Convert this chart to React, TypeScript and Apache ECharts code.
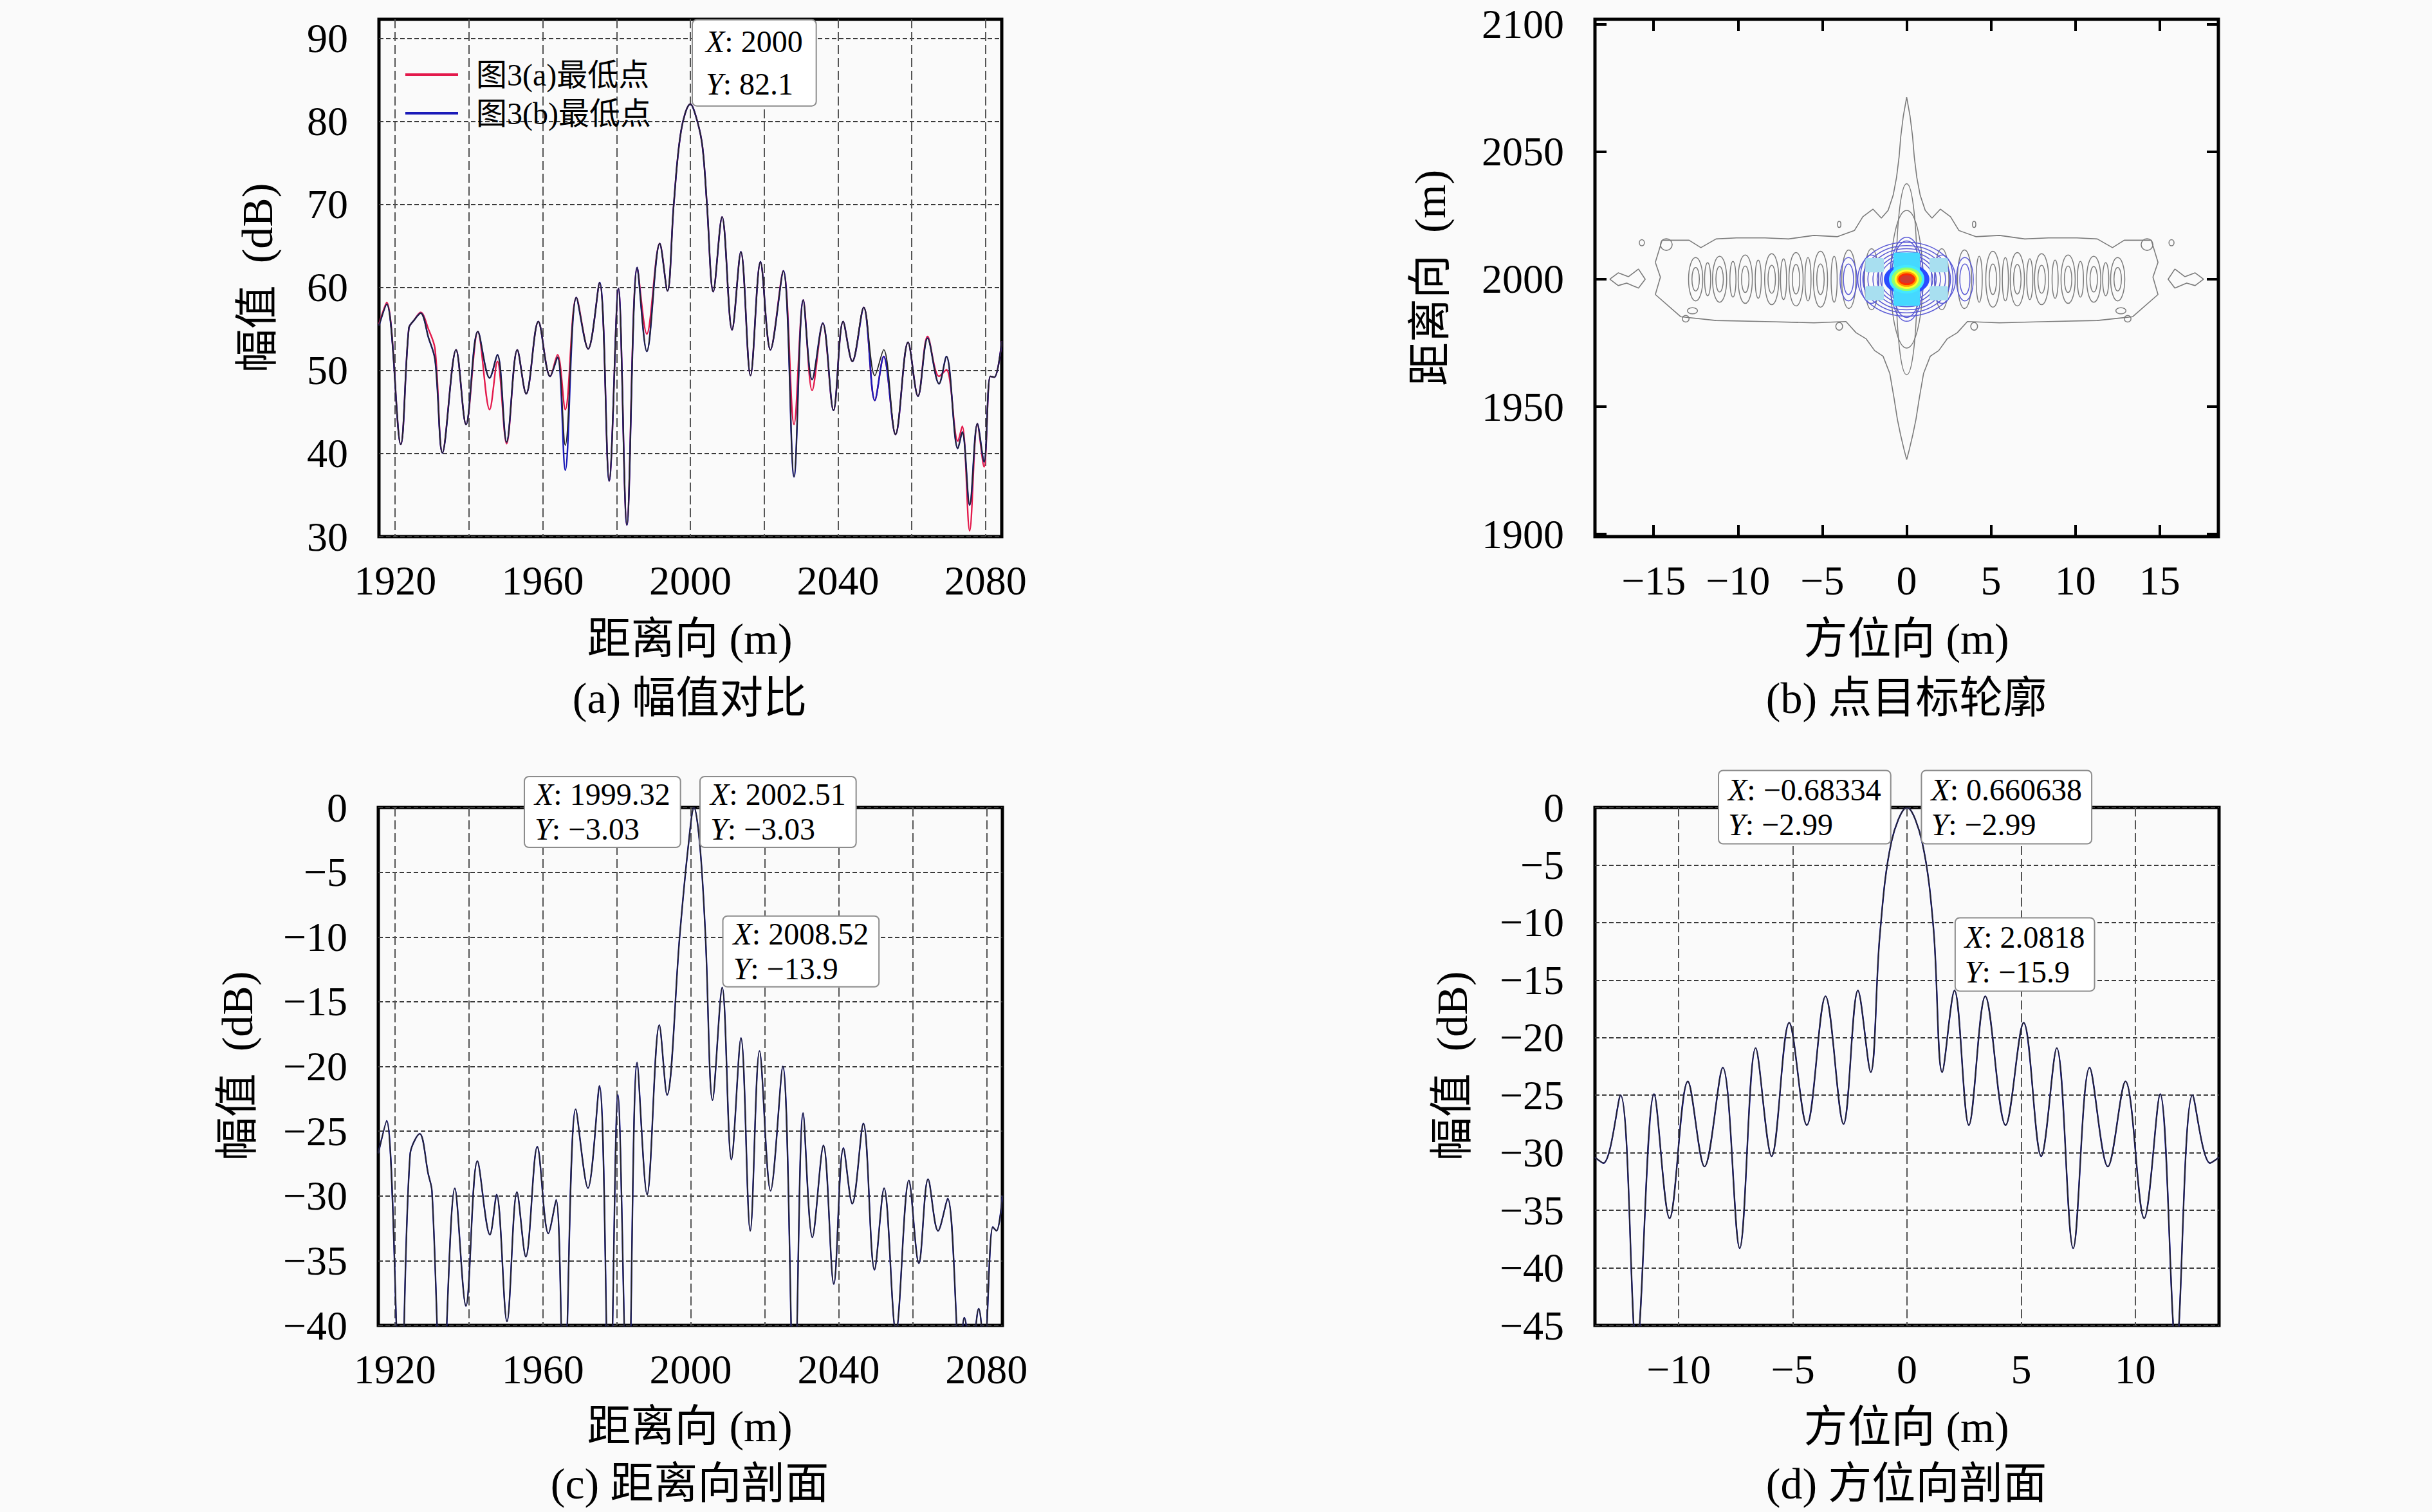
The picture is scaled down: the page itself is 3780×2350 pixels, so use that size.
import React, { useEffect, useRef } from 'react';
import * as echarts from 'echarts';

// ---------- (a) 幅值对比 ----------
const rangeX = [1915.6, 1917.7, 1921.5, 1923.7, 1925.0, 1926.9, 1929.0, 1930.8, 1932.8, 1936.5,
  1939.2, 1942.4, 1945.6, 1947.7, 1950.2, 1953.1, 1955.5, 1958.8, 1962.0, 1964.0,
  1966.1, 1969.1, 1972.3, 1975.4, 1978.0, 1980.5, 1982.8, 1985.6, 1988.2, 1991.7,
  1993.8, 1995.5, 1997.5, 2000, 2001.9, 2003.3, 2004.5, 2006.2, 2008.6, 2011.3,
  2013.7, 2016.3, 2019.0, 2021.7, 2025.2, 2028.1, 2030.6, 2033.0, 2035.9, 2038.8,
  2041.4, 2043.9, 2047.0, 2050.0, 2052.4, 2055.6, 2059.0, 2061.7, 2064.3, 2067.4,
  2069.4, 2072.5, 2073.7, 2075.7, 2077.8, 2079.6, 2081.3, 2082.4, 2084.4];
const ampBlue = [55.4, 58.0, 41.1, 55.1, 56.0, 56.9, 54.0, 51.3, 40.1, 52.5,
  43.5, 54.7, 49.1, 51.9, 41.4, 52.5, 47.2, 55.9, 49.3, 51.6,
  38.0, 58.8, 52.6, 60.6, 36.7, 59.9, 31.4, 62.4, 52.3, 65.3,
  59.6, 70.0, 78.9, 82.1, 80.0, 76.9, 70.0, 59.5, 68.5, 54.9,
  64.3, 49.4, 63.1, 52.5, 62.0, 37.2, 58.5, 48.9, 55.7, 45.2,
  55.9, 51.1, 57.6, 46.4, 51.7, 42.3, 53.4, 46.9, 53.9, 48.4,
  51.7, 40.6, 42.6, 33.8, 43.6, 39.0, 49.3, 49.2, 53.5];
const ampRed = [55.6, 58.2, 41.1, 55.1, 56.0, 57.0, 55.0, 52.6, 40.1, 52.5,
  43.5, 54.7, 45.3, 51.1, 41.2, 52.5, 47.2, 55.9, 49.3, 51.9,
  45.3, 58.8, 52.6, 60.6, 36.7, 59.9, 31.4, 62.4, 54.4, 65.3,
  59.6, 70.0, 78.9, 82.1, 80.0, 76.9, 70.0, 59.5, 68.5, 54.9,
  64.3, 49.4, 63.1, 52.5, 62.0, 43.5, 58.5, 47.6, 55.7, 45.2,
  55.9, 51.1, 57.6, 46.4, 51.7, 42.3, 53.4, 46.9, 54.1, 49.3,
  50.1, 41.5, 43.3, 30.7, 43.6, 38.4, 49.3, 49.2, 53.5];
const ampBlack = [55.4, 58.0, 41.1, 55.1, 56.0, 56.9, 54.0, 51.3, 40.1, 52.5,
  43.5, 54.7, 49.1, 51.9, 41.4, 52.5, 47.2, 55.9, 49.3, 51.6,
  41.0, 58.8, 52.6, 60.6, 36.7, 59.9, 31.4, 62.4, 52.3, 65.3,
  59.6, 70.0, 78.9, 82.1, 80.0, 76.9, 70.0, 59.5, 68.5, 54.9,
  64.3, 49.4, 63.1, 52.5, 62.0, 37.2, 58.5, 48.9, 55.7, 45.2,
  55.9, 51.1, 57.6, 49.4, 52.5, 42.3, 53.4, 46.9, 53.9, 48.4,
  51.7, 40.6, 42.6, 33.8, 43.6, 39.0, 49.3, 49.2, 53.5];
const legendNames = ['图3(a)最低点', '图3(b)最低点'];
const rangeGridTicks = [1920, 1940, 1960, 1980, 2000, 2020, 2040, 2060, 2080];
const rangeLabelTicks = [1920, 1960, 2000, 2040, 2080];
const ampTicksA = [30, 40, 50, 60, 70, 80, 90];
const tipsA = [[2000, 82.1]];

// ---------- (c) 距离向剖面 ----------
const profCX = [1915.5, 1917.75, 1921.5, 1924.1, 1926.7, 1929.0, 1930.0, 1932.7, 1936.2, 1939.2,
  1942.3, 1945.7, 1947.5, 1950.3, 1953.0, 1955.4, 1958.5, 1961.5, 1963.6, 1965.7,
  1968.9, 1972.2, 1975.3, 1978.0, 1980.3, 1983.0, 1985.5, 1988.2, 1991.5, 1993.6,
  1997.0, 1999.32, 2000.9, 2002.51, 2004.0, 2005.9, 2008.52, 2011.0, 2013.6, 2016.1,
  2018.6, 2021.6, 2024.9, 2028.0, 2030.4, 2032.9, 2035.9, 2038.7, 2041.3, 2043.7,
  2046.7, 2049.7, 2052.3, 2055.5, 2059.0, 2061.7, 2064.2, 2066.9, 2069.5, 2072.9,
  2074.0, 2076.0, 2077.9, 2079.4, 2081.7, 2082.7, 2084.3];
const profCY = [-26.7, -24.2, -46, -26.8, -25.2, -28.3, -29.6, -46, -29.4, -38.5,
  -27.3, -33.0, -29.9, -39.7, -29.7, -34.7, -26.2, -32.9, -30.3, -46,
  -23.3, -29.4, -21.5, -48, -22.2, -48, -19.7, -29.9, -16.8, -22.2,
  -10.0, -3.03, 0, -3.03, -10.0, -22.6, -13.9, -27.2, -17.8, -32.7,
  -18.8, -29.6, -20.0, -46, -23.6, -33.2, -26.1, -36.8, -26.3, -30.6,
  -24.4, -35.7, -29.4, -40.5, -28.8, -35.2, -28.7, -32.7, -30.2, -43,
  -39.4, -42, -38.7, -42, -32.4, -32.7, -30.0];
const ampTicksC = [-40, -35, -30, -25, -20, -15, -10, -5, 0];
const tipsC = [[1999.32, -3.03], [2002.51, -3.03], [2008.52, -13.9]];

// ---------- (d) 方位向剖面 ----------
const azX = [-13.67, -13.3, -12.55, -11.85, -11.08, -10.4, -9.6, -8.87, -8.07, -7.33,
  -6.63, -5.93, -5.16, -4.39, -3.57, -2.78, -2.15, -1.59, -1.19, -0.68334,
  0, 0.660638, 1.16, 1.54, 2.0818, 2.71, 3.43, 4.32, 5.11, 5.88,
  6.56, 7.28, 8.0, 8.8, 9.57, 10.39, 11.09, 11.79, 12.51, 13.28, 13.67];
const azY = [-30.4, -30.9, -25.0, -47, -24.9, -35.7, -23.8, -31.2, -22.6, -38.3,
  -20.9, -30.3, -18.7, -27.6, -16.4, -27.5, -15.9, -23.0, -11.1, -2.99,
  0, -2.99, -10.5, -23.0, -15.9, -27.6, -16.4, -27.6, -18.7, -30.3,
  -20.9, -38.3, -22.6, -31.2, -23.8, -35.7, -24.9, -47, -25.0, -30.9, -30.4];
const azTicks = [-10, -5, 0, 5, 10];
const ampTicksD = [-45, -40, -35, -30, -25, -20, -15, -10, -5, 0];
const tipsD = [[-0.68334, -2.99], [0.660638, -2.99], [2.0818, -15.9]];

// ---------- (b) 点目标轮廓 ----------
const contourTicksX = [-15, -10, -5, 0, 5, 10, 15];
const contourTicksY = [1900, 1950, 2000, 2050, 2100];
const contourOuter = [
  [-14.9, 2006.6], [-14.5, 2015.3], [-12.9, 2015.3], [-12.2, 2012.4], [-11.3, 2015.8], [-10.1, 2016.2],
  [-8.4, 2016.2], [-7.0, 2015.8], [-5.5, 2017.2], [-4.1, 2016.7], [-3.1, 2019.1], [-2.6, 2024.5],
  [-2.0, 2027.5], [-1.5, 2024.0], [-1.1, 2027.0], [-0.8, 2033.0], [-0.6, 2040.0], [-0.45, 2048.0],
  [-0.35, 2056.0], [-0.2, 2064.0], [0, 2071.4], [0.2, 2064.0], [0.35, 2056.0], [0.45, 2048.0],
  [0.6, 2040.0], [0.8, 2033.0], [1.1, 2027.0], [1.5, 2024.0], [2.0, 2027.5], [2.6, 2024.5],
  [3.1, 2019.1], [4.1, 2016.7], [5.5, 2017.2], [7.0, 2015.8], [8.4, 2016.2], [10.1, 2016.2],
  [11.3, 2015.8], [12.2, 2012.4], [12.9, 2015.3], [14.5, 2015.3], [14.9, 2006.6], [14.6, 2000.8],
  [14.9, 1994.0], [13.4, 1985.3], [11.3, 1983.8], [8.4, 1983.4], [5.5, 1982.9], [3.6, 1983.4],
  [3.0, 1979.0], [2.4, 1976.6], [1.9, 1972.0], [1.4, 1969.8], [1.0, 1963.0], [0.75, 1953.4],
  [0.55, 1945.0], [0.36, 1938.9], [0.15, 1933.0], [0, 1929.2], [-0.15, 1933.0], [-0.36, 1938.9],
  [-0.55, 1945.0], [-0.75, 1953.4], [-1.0, 1963.0], [-1.4, 1969.8], [-1.9, 1972.0], [-2.4, 1976.6],
  [-3.0, 1979.0], [-3.6, 1983.4], [-5.5, 1982.9], [-8.4, 1983.4], [-11.3, 1983.8], [-13.4, 1985.3],
  [-14.9, 1994.0], [-14.6, 2000.8], [-14.9, 2006.6]];
const contourEndLeft = [[-17.6, 2000], [-17.1, 2002.5], [-16.5, 2001], [-15.9, 2004], [-15.5, 2000],
  [-15.9, 1996.5], [-16.6, 1998.5], [-17.1, 1997.5], [-17.6, 2000]];
const contourEndRight = [[17.6, 2000], [17.1, 2002.5], [16.5, 2001], [15.9, 2004], [15.5, 2000],
  [15.9, 1996.5], [16.6, 1998.5], [17.1, 1997.5], [17.6, 2000]];
// [cx, cy, rx, ry]
const grayLoops = [
  [0, 2000, 0.62, 37.5], [0, 2000, 0.95, 27],
  [-2.08, 2000, 0.42, 12], [2.08, 2000, 0.42, 12], [-3.43, 2000, 0.42, 11.5], [3.43, 2000, 0.42, 11.5],
  [-5.11, 2000, 0.42, 11], [5.11, 2000, 0.42, 11], [-6.56, 2000, 0.42, 10.5], [6.56, 2000, 0.42, 10.5],
  [-8.0, 2000, 0.42, 10], [8.0, 2000, 0.42, 10], [-9.57, 2000, 0.42, 9.5], [9.57, 2000, 0.42, 9.5],
  [-11.09, 2000, 0.42, 9], [11.09, 2000, 0.42, 9], [-12.51, 2000, 0.42, 8.5], [12.51, 2000, 0.42, 8.5],
  [-5.11, 2000, 0.22, 6], [5.11, 2000, 0.22, 6], [-6.56, 2000, 0.22, 5.8], [6.56, 2000, 0.22, 5.8],
  [-8.0, 2000, 0.22, 5.5], [8.0, 2000, 0.22, 5.5], [-9.57, 2000, 0.22, 5.2], [9.57, 2000, 0.22, 5.2],
  [-11.09, 2000, 0.22, 5], [11.09, 2000, 0.22, 5], [-12.51, 2000, 0.22, 4.6], [12.51, 2000, 0.22, 4.6],
  [-4.3, 2000, 0.18, 9], [4.3, 2000, 0.18, 9], [-5.85, 2000, 0.18, 8.5], [5.85, 2000, 0.18, 8.5],
  [-7.3, 2000, 0.18, 8], [7.3, 2000, 0.18, 8], [-8.8, 2000, 0.18, 7.5], [8.8, 2000, 0.18, 7.5],
  [-10.3, 2000, 0.18, 7], [10.3, 2000, 0.18, 7], [-11.8, 2000, 0.18, 6.5], [11.8, 2000, 0.18, 6.5],
  [-14.25, 2013.6, 0.35, 2.3], [14.25, 2013.6, 0.35, 2.3], [-12.7, 1987.6, 0.3, 1.2], [12.7, 1987.6, 0.3, 1.2],
  [-15.7, 2014.3, 0.15, 1.2], [15.7, 2014.3, 0.15, 1.2], [-13.1, 1984.5, 0.2, 1.3], [13.1, 1984.5, 0.2, 1.3],
  [-4.0, 1981.5, 0.2, 1.5], [4.0, 1981.5, 0.2, 1.5], [-4.0, 2021.5, 0.1, 1.2], [4.0, 2021.5, 0.1, 1.2]];
const blueLoops = [
  [0, 2000, 2.9, 14.5], [0, 2000, 2.6, 13.2], [0, 2000, 2.3, 12], [0, 2000, 2.0, 10.8],
  [0, 2000, 1.75, 9.6], [0, 2000, 1.55, 8.4], [0, 2000, 1.0, 16.5], [0, 2000, 0.9, 15],
  [-2.1, 2000, 0.65, 9.5], [2.1, 2000, 0.65, 9.5], [-2.1, 2000, 0.45, 7.5], [2.1, 2000, 0.45, 7.5],
  [-3.45, 2000, 0.5, 8.5], [3.45, 2000, 0.5, 8.5], [-3.45, 2000, 0.3, 6], [3.45, 2000, 0.3, 6]];
// [cx, cy, rx, ry, kind(0 ellipse, 1 rect)]
const coreFills = [
  [0, 2000, 1.35, 6.0, 0], [0, 2000, 0.78, 10.5, 1],
  [-1.9, 2005.5, 0.55, 2.8, 1], [1.9, 2005.5, 0.55, 2.8, 1], [-1.9, 1994.5, 0.55, 2.8, 1], [1.9, 1994.5, 0.55, 2.8, 1],
  [0, 2000, 1.05, 5.6, 0], [0, 2000, 0.9, 4.6, 0], [0, 2000, 0.72, 3.8, 0], [0, 2000, 0.6, 3.0, 0],
  [0, 2000, 0.5, 2.3, 0], [0, 2000, 0.4, 1.6, 0]];
const coreColors = ['#2a4cff', '#45d8ff', '#a8dff0', '#a8dff0', '#a8dff0', '#a8dff0',
  '#44e8ff', '#8cff72', '#ffff2a', '#ff9c00', '#ff2a00', '#cf3a30'];

// ---------- layout / style ----------
const SERIF = "'Liberation Serif', 'Noto Sans CJK SC', serif";
const BG = '#fafafa';
const grids = [
  { left: 589, top: 30, width: 968, height: 804 },
  { left: 2479, top: 30, width: 969, height: 804 },
  { left: 588, top: 1255, width: 970, height: 805 },
  { left: 2479, top: 1255, width: 970, height: 805 },
];
const titleItems = [
  { t: '距离向 (m)', x: 1072, y: 993, r: 0 },
  { t: '方位向 (m)', x: 2963, y: 993, r: 0 },
  { t: '距离向 (m)', x: 1072, y: 2217, r: 0 },
  { t: '方位向 (m)', x: 2963, y: 2218, r: 0 },
  { t: '幅值\u2002(dB)', x: 400, y: 432, r: 1 },
  { t: '距离向\u2002(m)', x: 2223, y: 432, r: 1 },
  { t: '幅值\u2002(dB)', x: 369, y: 1657, r: 1 },
  { t: '幅值\u2002(dB)', x: 2257, y: 1657, r: 1 },
  { t: '(a) 幅值对比', x: 1072, y: 1085, r: 0 },
  { t: '(b) 点目标轮廓', x: 2963, y: 1085, r: 0 },
  { t: '(c) 距离向剖面', x: 1072, y: 2306, r: 0 },
  { t: '(d) 方位向剖面', x: 2963, y: 2306, r: 0 },
];
const tipLayoutA = [[4, 2, 'left']];
const tipLayoutC = [[-13, 0, 'right'], [1, 0, 'left'], [2, -2, 'left']];
const tipLayoutD = [[-2, 2, 'right'], [0, 2, 'left'], [2, 0, 'left']];

const minus = (v: any) => String(v).replace('-', '\u2212');
const pairs = (xs: number[], ys: number[]) => xs.map((x, i) => [x, ys[i]]);

const labelStyle = { fontSize: 64, fontFamily: SERIF, color: '#000' };
const hGrid = { show: true, lineStyle: { type: [7, 4] as any, color: '#3a3a3a', width: 2 } };
const vGrid = { show: true, lineStyle: { type: [14, 6] as any, color: '#555', width: 2 } };

function axis(gridIndex: number, min: number, max: number, labels: number[], ticks: number[], isX: boolean, split: any, extra: any = {}) {
  return {
    type: 'value', gridIndex, min, max,
    axisLine: { show: false, onZero: false },
    axisTick: { show: false, customValues: ticks },
    axisLabel: { ...labelStyle, customValues: labels, margin: isX ? 36 : 48, formatter: minus },
    splitLine: split,
    ...extra,
  };
}

const insideTicks = { show: true, inside: true, length: 18, lineStyle: { width: 4, color: '#000' } };

function ellipseRender(filled: boolean) {
  return (params: any, api: any) => {
    const cx = api.value(0), cy = api.value(1);
    const c = api.coord([cx, cy]);
    const s = api.size([api.value(2), api.value(3)], [cx, cy]);
    const color = api.visual('color');
    if (filled && api.value(4) === 1) {
      return { type: 'rect', shape: { x: c[0] - s[0], y: c[1] - s[1], width: 2 * s[0], height: 2 * s[1], r: 3 }, style: { fill: color } };
    }
    return {
      type: 'ellipse', shape: { cx: c[0], cy: c[1], rx: s[0], ry: s[1] },
      style: filled ? { fill: color } : { fill: 'none', stroke: color, lineWidth: 1.5 },
    };
  };
}

function lineSeries(name: string | undefined, xi: number, data: any[], color: string, width: number, z: number) {
  const s: any = {
    type: 'line', xAxisIndex: xi, yAxisIndex: xi, data, showSymbol: false, symbol: 'none',
    smooth: 0.35, color, itemStyle: { color }, lineStyle: { color, width }, z, clip: true,
  };
  if (name) s.name = name;
  return s;
}

function buildOption() {
  return {
    animation: false,
    backgroundColor: BG,
    grid: grids.map((g) => ({ ...g, show: true, borderColor: '#000', borderWidth: 5, backgroundColor: 'transparent' })),
    legend: {
      data: legendNames, left: 625, top: 81, orient: 'vertical', icon: 'rect',
      itemWidth: 82, itemHeight: 4, itemGap: 0, selectedMode: false,
      textStyle: { fontSize: 48, fontFamily: SERIF, color: '#000', lineHeight: 60, padding: [0, 0, 0, 23] },
    },
    xAxis: [
      axis(0, 1915.6, 2084.4, rangeLabelTicks, rangeGridTicks, true, vGrid),
      axis(1, -18.48, 18.48, contourTicksX, contourTicksX, true, { show: false }, { axisTick: { ...insideTicks, customValues: contourTicksX } }),
      axis(2, 1915.5, 2084.3, rangeLabelTicks, rangeGridTicks, true, vGrid),
      axis(3, -13.67, 13.67, azTicks, azTicks, true, vGrid),
      axis(1, -18.48, 18.48, contourTicksX, contourTicksX, true, { show: false }, {
        position: 'top', axisLabel: { show: false, customValues: contourTicksX },
        axisTick: { ...insideTicks, customValues: contourTicksX },
      }),
    ],
    yAxis: [
      axis(0, 30, 92.3, ampTicksA, ampTicksA, false, hGrid),
      axis(1, 1899, 2102, contourTicksY, contourTicksY, false, { show: false }, { axisTick: { ...insideTicks, customValues: contourTicksY } }),
      axis(2, -40, 0, ampTicksC, ampTicksC, false, hGrid),
      axis(3, -45, 0, ampTicksD, ampTicksD, false, hGrid),
      axis(1, 1899, 2102, contourTicksY, contourTicksY, false, { show: false }, {
        position: 'right', axisLabel: { show: false, customValues: contourTicksY },
        axisTick: { ...insideTicks, customValues: contourTicksY },
      }),
    ],
    series: [
      lineSeries(legendNames[0], 0, pairs(rangeX, ampRed), '#e3194b', 2.4, 2),
      lineSeries(legendNames[1], 0, pairs(rangeX, ampBlue), '#1a1ab8', 2.5, 3),
      lineSeries(undefined, 0, pairs(rangeX, ampBlack), '#262626', 1.8, 4),
      lineSeries(undefined, 2, pairs(profCX, profCY), '#1a1ab8', 2.4, 3),
      lineSeries(undefined, 2, pairs(profCX, profCY), '#262626', 1.8, 4),
      lineSeries(undefined, 3, pairs(azX, azY), '#1a1ab8', 2.4, 3),
      lineSeries(undefined, 3, pairs(azX, azY), '#262626', 1.8, 4),
      {
        type: 'line', xAxisIndex: 1, yAxisIndex: 1, data: contourOuter, showSymbol: false, symbol: 'none',
        lineStyle: { color: '#7a7a7a', width: 1.6 }, z: 2,
      },
      {
        type: 'line', xAxisIndex: 1, yAxisIndex: 1, data: contourEndLeft, showSymbol: false, symbol: 'none',
        lineStyle: { color: '#7a7a7a', width: 1.6 }, z: 2,
      },
      {
        type: 'line', xAxisIndex: 1, yAxisIndex: 1, data: contourEndRight, showSymbol: false, symbol: 'none',
        lineStyle: { color: '#7a7a7a', width: 1.6 }, z: 2,
      },
      {
        type: 'custom', xAxisIndex: 1, yAxisIndex: 1, data: grayLoops, encode: { x: 0, y: 1 },
        renderItem: ellipseRender(false), itemStyle: { color: '#7a7a7a' }, z: 3,
      },
      {
        type: 'custom', xAxisIndex: 1, yAxisIndex: 1, data: blueLoops, encode: { x: 0, y: 1 },
        renderItem: ellipseRender(false), itemStyle: { color: '#5a5ad6' }, z: 4,
      },
      {
        type: 'custom', xAxisIndex: 1, yAxisIndex: 1,
        data: coreFills.map((v, i) => ({ value: v, itemStyle: { color: coreColors[i] } })),
        encode: { x: 0, y: 1 }, renderItem: ellipseRender(true), z: 5,
      },
    ],
  };
}

export default function App() {
  const ref = useRef<HTMLDivElement>(null);
  useEffect(() => {
    const chart = echarts.init(ref.current!, null, { renderer: 'svg' });
    chart.setOption(buildOption() as any);

    const graphics: any[] = titleItems.map((it) => ({
      type: 'text', x: it.x, y: it.y, rotation: it.r ? Math.PI / 2 : 0, z: 50,
      style: { text: it.t, fontSize: 68, fontFamily: SERIF, fill: '#000', align: 'center', verticalAlign: 'middle' },
    }));
    const ctx = document.createElement('canvas').getContext('2d')!;
    const measure = (italicPart: string, rest: string) => {
      ctx.font = `italic 48px ${SERIF}`;
      const a = ctx.measureText(italicPart).width;
      ctx.font = `48px ${SERIF}`;
      return a + ctx.measureText(rest).width;
    };
    const addTips = (axisIdx: number, pts: number[][], layout: any[], lineH: number, pad: number[]) => {
      pts.forEach((pt, i) => {
        const p = chart.convertToPixel({ xAxisIndex: axisIdx, yAxisIndex: axisIdx } as any, pt) as any;
        const [dx, dy, side] = layout[i];
        const l1 = `: ${minus(pt[0])}`;
        const l2 = `: ${minus(pt[1])}`;
        const w = Math.max(measure('X', l1), measure('Y', l2)) + 2 * pad[1];
        const x0 = side === 'right' ? p[0] + dx - w : p[0] + dx;
        graphics.push({
          type: 'text', x: x0, y: p[1] + dy, z: 60,
          style: {
            text: `{i|X}${l1}\n{i|Y}${l2}`,
            fontSize: 48, fontFamily: SERIF, fill: '#000', align: 'left', verticalAlign: 'bottom', lineHeight: lineH,
            backgroundColor: '#ffffff', borderColor: '#8c8c8c', borderWidth: 2, borderRadius: 6, padding: pad,
            rich: { i: { fontStyle: 'italic', fontSize: 48, fontFamily: SERIF, lineHeight: lineH, fill: '#000' } },
          },
        });
      });
    };
    addTips(0, tipsA, tipLayoutA, 66, [0, 20]);
    addTips(2, tipsC, tipLayoutC, 54, [0, 15]);
    addTips(3, tipsD, tipLayoutD, 54, [2, 14]);
    chart.setOption({ graphic: graphics });
    return () => chart.dispose();
  }, []);
  return <div ref={ref} style={{ position: 'fixed', left: 0, top: 0, width: 3780, height: 2350 }} />;
}
